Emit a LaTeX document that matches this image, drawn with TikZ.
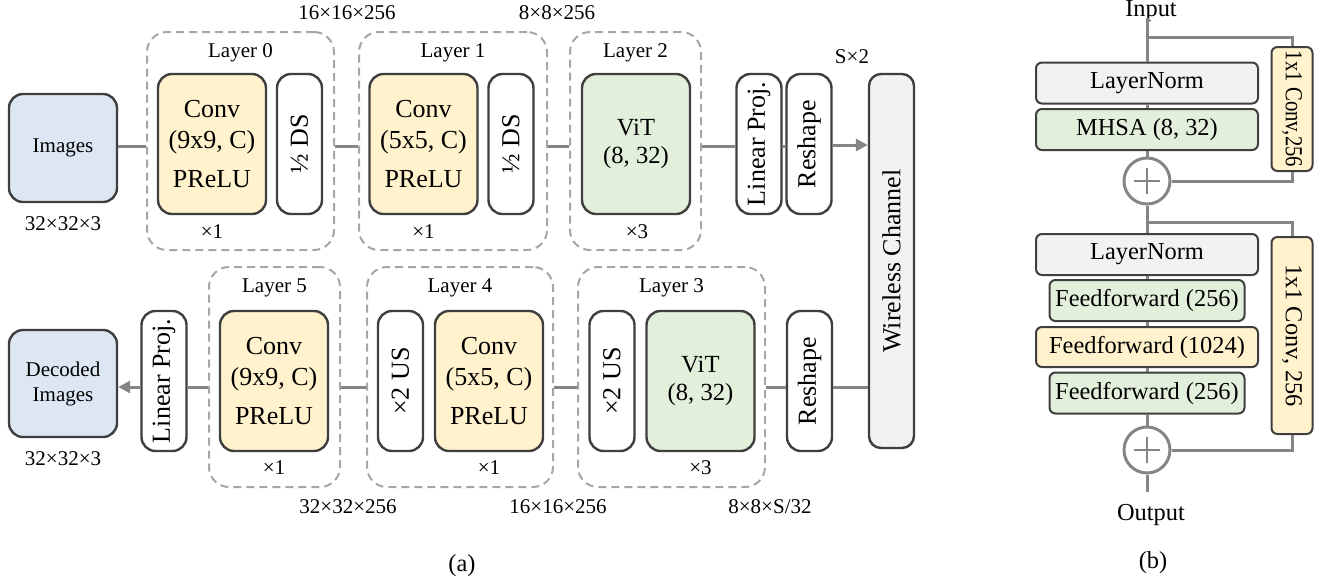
\documentclass[tikz,border=0pt]{standalone}
\usepackage{fontspec}
\setmainfont{Liberation Serif}
\usetikzlibrary{arrows.meta}
\definecolor{bline}{HTML}{3F3F3F}
\definecolor{cline}{HTML}{858585}
\definecolor{dline}{HTML}{A6A6A6}
\definecolor{cblue}{HTML}{DDE7F4}
\definecolor{cyel}{HTML}{FFF2CC}
\definecolor{cgreen}{HTML}{E2EFDA}
\definecolor{cgray}{HTML}{F2F2F2}
\newcommand\fA{\fontsize{10.5}{12.5}\selectfont}
\newcommand\fB{\fontsize{13}{15.5}\selectfont}
\newcommand\fC{\fontsize{12.2}{14}\selectfont}
\newcommand\fV{\fontsize{12.3}{14}\selectfont}
\tikzset{
  conn/.style={draw=cline, line width=1.5pt},
  arr/.style={-{Triangle[length=6pt,width=6pt]}},
  blk/.style={draw=bline, line width=1.2pt, rounded corners=7pt, inner sep=0pt, align=center, font=\fB},
  tall/.style={minimum height=70pt},
  thin/.style={minimum width=22.5pt},
  wide/.style={minimum width=54pt},
  layerbox/.style={draw=dline, line width=1pt, dash pattern=on 4pt off 2.5pt, rounded corners=10pt, inner sep=0pt},
  lbl/.style={font=\fA, inner sep=0pt},
  rblk/.style={draw=bline, line width=1pt, rounded corners=3pt, inner sep=0pt, font=\fC, minimum height=20.5pt},
  plusc/.style={circle, draw=cline, line width=1.5pt, minimum size=23pt, inner sep=0pt,
    path picture={\draw[cline, line width=1.2pt] (path picture bounding box.center) +(-6.5pt,0) -- +(6.5pt,0)
      (path picture bounding box.center) +(0,-6.5pt) -- +(0,6.5pt);}},
}
\begin{document}
\begin{tikzpicture}[x=0.5pt,y=-0.5pt]
\useasboundingbox (0,0) rectangle (1319,585);
\coordinate (ytop) at (0,146);
\coordinate (ybot) at (0,387);
\coordinate (yarr) at (0,145);

% ---------------- top row
\node[blk, fill=cblue, minimum width=54pt, minimum height=54pt, font=\fA] (imgs) at (63,148) {Images};
\node[lbl] (imgsd) at (63,224) {32×32×3};

\node[layerbox, minimum width=93.5pt, minimum height=109pt] (L0) at (240.5,141) {};
\node[lbl] (L0t) at (240.5,53) {Layer 0};
\node[blk, fill=cyel, wide, tall] (conv0) at (212,144) {Conv\\(9x9, C)\\[4pt]PReLU};
\node[blk, fill=white, thin, tall] (ds0) at (299.5,144) {\rotatebox{90}{½ DS}};
\node[lbl] (L0n) at (212,232) {×1};

\node[layerbox, minimum width=94pt, minimum height=109pt] (L1) at (453,141) {};
\node[lbl] (L1t) at (453,53) {Layer 1};
\node[blk, fill=cyel, wide, tall] (conv1) at (423.5,144) {Conv\\(5x5, C)\\[4pt]PReLU};
\node[blk, fill=white, thin, tall] (ds1) at (511,144) {\rotatebox{90}{½ DS}};
\node[lbl] (L1n) at (423.5,232) {×1};

\node[layerbox, minimum width=65.5pt, minimum height=109pt] (L2) at (635.5,141) {};
\node[lbl] (L2t) at (635.5,53) {Layer 2};
\node[blk, fill=cgreen, wide, tall, font=\fV] (vit2) at (636,144) {ViT\\(8, 32)};
\node[lbl] (L2n) at (637,232) {×3};

\node[blk, fill=white, thin, tall] (lp) at (759,144) {\rotatebox{90}{Linear Proj.}};
\node[blk, fill=white, thin, tall] (rs) at (809,144) {\rotatebox{90}{Reshape}};
\node[blk, fill=cgray, rounded corners=6pt, thin, minimum height=187pt] (wc) at (891.5,261) {\rotatebox{90}{Wireless Channel}};

\node[lbl] (d1) at (347,13) {16×16×256};
\node[lbl] (d2) at (557,13) {8×8×256};
\node[lbl] (d3) at (852,57) {S×2};

\draw[conn] (imgs.east |- ytop) -- (L0.west |- ytop);
\draw[conn] (L0.east |- ytop) -- (L1.west |- ytop);
\draw[conn] (L1.east |- ytop) -- (L2.west |- ytop);
\draw[conn] (L2.east |- ytop) -- (lp.west |- ytop);
\draw[conn] (lp.east |- ytop) -- (rs.west |- ytop);
\draw[conn, arr] (rs.east |- yarr) -- (wc.west |- yarr);

% ---------------- bottom row
\node[blk, fill=cblue, minimum width=54pt, minimum height=53.5pt, font=\fA] (dec) at (63,383.5) {Decoded\\Images};
\node[lbl] (decd) at (63,459) {32×32×3};
\node[blk, fill=white, thin, tall] (lp2) at (164,381) {\rotatebox{90}{Linear Proj.}};

\node[layerbox, minimum width=65.5pt, minimum height=110pt] (L5) at (274.5,377) {};
\node[lbl] (L5t) at (274.5,288) {Layer 5};
\node[blk, fill=cyel, wide, tall] (conv5) at (274,381) {Conv\\(9x9, C)\\[4pt]PReLU};
\node[lbl] (L5n) at (274,468) {×1};

\node[layerbox, minimum width=93pt, minimum height=110pt] (L4) at (460,377) {};
\node[lbl] (L4t) at (460,288) {Layer 4};
\node[blk, fill=white, thin, tall] (us4) at (400.5,381) {\rotatebox{90}{×2 US}};
\node[blk, fill=cyel, wide, tall] (conv4) at (489,381) {Conv\\(5x5, C)\\[4pt]PReLU};
\node[lbl] (L4n) at (489,468) {×1};

\node[layerbox, minimum width=93.5pt, minimum height=110pt] (L3) at (671.5,377) {};
\node[lbl] (L3t) at (671.5,288) {Layer 3};
\node[blk, fill=white, thin, tall] (us3) at (612,381) {\rotatebox{90}{×2 US}};
\node[blk, fill=cgreen, wide, tall, font=\fV] (vit3) at (700.5,381) {ViT\\(8, 32)};
\node[lbl] (L3n) at (700.5,468) {×3};

\node[blk, fill=white, thin, tall] (rs2) at (809.5,381) {\rotatebox{90}{Reshape}};

\node[lbl] (d4) at (348,507) {32×32×256};
\node[lbl] (d5) at (558,507) {16×16×256};
\node[lbl] (d6) at (770,507) {8×8×S/32};

\draw[conn] (wc.west |- ybot) -- (rs2.east |- ybot);
\draw[conn] (rs2.west |- ybot) -- (L3.east |- ybot);
\draw[conn] (L3.west |- ybot) -- (L4.east |- ybot);
\draw[conn] (L4.west |- ybot) -- (L5.east |- ybot);
\draw[conn] (L5.west |- ybot) -- (lp2.east |- ybot);
\draw[conn, arr] (lp2.west |- ybot) -- (dec.east |- ybot);

\node[font=\fC] (capa) at (462,566) {(a)};

% ---------------- panel (b)
\node[font=\fC, anchor=base] (inp) at (1151,16) {Input};
\coordinate (inl) at (1147,18);
\node[rblk, fill=cgray, minimum width=111pt] (ln1) at (1147,83) {LayerNorm};
\node[rblk, fill=cgreen, minimum width=111pt] (mhsa) at (1147,129.5) {MHSA (8, 32)};
\node[plusc] (p1) at (1147,181) {};
\node[rblk, fill=cyel, minimum width=20.5pt, minimum height=62pt] (c1) at (1292,109) {\rotatebox{-90}{\scalebox{0.85}[1]{1x1 Conv,256}}};

\node[rblk, fill=cgray, minimum width=111pt] (ln2) at (1147,254.5) {LayerNorm};
\node[rblk, fill=cgreen, minimum width=97.5pt] (ff1) at (1147,300.5) {Feedforward (256)};
\node[rblk, fill=cyel, minimum width=111pt, minimum height=20pt] (ff2) at (1147,347) {Feedforward (1024)};
\node[rblk, fill=cgreen, minimum width=97.5pt] (ff3) at (1147,393) {Feedforward (256)};
\node[plusc] (p2) at (1147,450) {};
\node[rblk, fill=cyel, minimum width=20.5pt, minimum height=98.5pt] (c2) at (1292,335.5) {\rotatebox{-90}{1x1 Conv, 256}};
\coordinate (outl) at (1147,492);
\node[font=\fC] (outt) at (1151,515) {Output};
\node[font=\fC] (capb) at (1153,563) {(b)};

\coordinate (b1) at (1147,37);
\coordinate (b2) at (1147,222);
\draw[conn] (inl) -- (ln1);
\draw[conn] (ln1) -- (mhsa);
\draw[conn] (mhsa) -- (p1);
\draw[conn] (b1) -| (c1.north);
\draw[conn] (c1.south) |- (p1.east);
\draw[conn] (p1) -- (ln2);
\draw[conn] (b2) -| (c2.north);
\draw[conn] (ln2) -- (ff1);
\draw[conn] (ff1) -- (ff2);
\draw[conn] (ff2) -- (ff3);
\draw[conn] (ff3) -- (p2);
\draw[conn] (c2.south) |- (p2.east);
\draw[conn] (p2) -- (outl);
\end{tikzpicture}
\end{document}
